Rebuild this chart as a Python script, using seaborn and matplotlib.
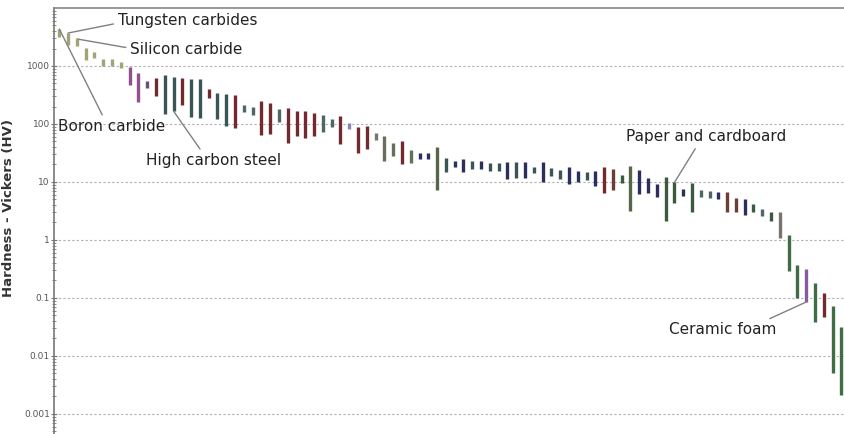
import pandas as pd
import numpy as np
import matplotlib
matplotlib.use('Agg')
import matplotlib.pyplot as plt
import seaborn as sns

# hardness ranges (HV) per material, sorted by hardness
hv_high = [4350, 3700, 2930, 2040, 1740, 1320, 1320, 1170, 960, 757,
           551, 621, 700, 645, 621, 597, 597, 401, 342, 329,
           316, 213, 196, 249, 230, 181, 189, 167, 167, 155,
           143, 122, 137, 104, 89, 92, 70, 62, 47, 51,
           36, 31.6, 31.6, 40, 26, 23, 25, 23, 23, 21.3,
           21.3, 22.1, 22.1, 22.1, 18.2, 22.1, 17.4, 16.1, 18.2, 15.5,
           14.9, 15.5, 18.2, 16.7, 13.2, 18.9, 16.1, 11.7, 9.2, 12.2,
           9.8, 7.6, 9.6, 7.3, 7.0, 6.7, 6.7, 5.3, 5.1, 4.2,
           3.4, 3.0, 3.0, 1.22, 0.37, 0.316, 0.18, 0.122, 0.073, 0.0316]
hv_low = [3160, 2300, 2210, 1270, 1370, 1000, 1000, 925, 470, 240,
          418, 304, 149, 167, 213, 132, 127, 281, 122, 92,
          85, 161, 143, 65, 67, 108, 47, 62, 57, 62,
          73, 89, 45, 82, 31.6, 37, 53, 23, 28, 20,
          21, 25, 25, 7.3, 14.9, 18.2, 14.9, 16.7, 16.7, 15.5,
          15.5, 11.3, 11.7, 11.7, 14.3, 10, 12.7, 11.3, 9.2, 10,
          10.8, 8.5, 6.5, 7.3, 9.6, 3.16, 6.2, 6.5, 5.5, 2.1,
          4.3, 5.7, 3.0, 5.5, 5.3, 5.1, 3.0, 3.0, 2.7, 3.0,
          2.6, 2.1, 1.08, 0.29, 0.1, 0.085, 0.0385, 0.047, 0.0051, 0.0021]
# material family code per bar
family = list('KKKKKKKKPP' 'MRSSRSSRSS' 'RLLRRLRRRR' 'LLRVRRGOOR' 'ONNESNNSNS'
              'SNSNSNSSNN' 'SNRBDENNND' 'DNDLLNBBND' 'LDGFFUFRFF')

# annotated materials: (label, bar index, end of bar)
notes = [('Tungsten carbides', 1, 'high'),
         ('Silicon carbide', 2, 'high'),
         ('Boron carbide', 0, 'high'),
         ('High carbon steel', 13, 'low'),
         ('Paper and cardboard', 70, 'high'),
         ('Ceramic foam', 85, 'low')]

yticks = [0.001, 0.01, 0.1, 1, 10, 100, 1000]
ytick_labels = ['0.001', '0.01', '0.1', '1', '10', '100', '1000']

palette = {'K': '#a3a373', 'P': '#94508c', 'M': '#6e506e', 'R': '#722a2e',
           'S': '#395555', 'L': '#4e6666', 'V': '#8a86b4', 'G': '#78756e',
           'O': '#66705a', 'N': '#2c2e5e', 'E': '#56664a', 'B': '#6e3e36',
           'D': '#3b5a40', 'F': '#3f6e45', 'U': '#8a5aa0'}

n = len(hv_high)
df = pd.DataFrame({'idx': list(range(n)) * 2,
                   'hv': hv_low + hv_high,
                   'family': family * 2})

sns.set_style('white')
plt.rcParams['font.family'] = ['DejaVu Sans']

fig = plt.figure(figsize=(8.44, 4.34), dpi=100)
ax = fig.add_axes([54 / 844, 0.0, 1 - 54 / 844, 1 - 8 / 434])

sns.lineplot(data=df, x='idx', y='hv', hue='family', units='idx', estimator=None,
             palette=palette, legend=False, linewidth=2.4, solid_capstyle='butt', ax=ax)

ax.set_yscale('log')
ax.set_ylim(4.5e-4, 1e4)
ax.set_xlim(-0.6, 89.3)
ax.set_yticks(yticks)
ax.set_yticklabels(ytick_labels)
ax.set_xticks([])
ax.set_xlabel('')
ax.set_ylabel('Hardness - Vickers (HV)', fontsize=9.5, fontweight='bold', color='#333333')
ax.yaxis.set_label_coords(-39 / 790, 0.53)
ax.tick_params(axis='y', which='major', labelsize=6.5, labelcolor='#555555', length=4, width=0.8,
               color='#777777', direction='inout', left=True, pad=1)
ax.tick_params(axis='y', which='minor', length=2.5, width=0.6, color='#777777', direction='inout', left=True)
ax.yaxis.grid(True, which='major', color='#b0b0b0', linestyle=(0, (2, 2)), linewidth=0.8)
ax.set_axisbelow(True)

for side in ['right', 'bottom']:
    ax.spines[side].set_visible(False)
ax.spines['left'].set_color('#777777')
ax.spines['top'].set_color('#888888')
ax.spines['left'].set_linewidth(1.2)
ax.spines['top'].set_linewidth(1.2)

# label placement (data coords) and where the leader line leaves the text
text_pos = {'Tungsten carbides': (6.7, 6200, 'left', (0, 0.3)),
            'Silicon carbide': (8.1, 1900, 'left', (0, 0.6)),
            'Boron carbide': (6.0, 89, 'center', (0.43, 1)),
            'High carbon steel': (17.6, 23, 'center', (0.42, 1)),
            'Paper and cardboard': (73.6, 60, 'center', (0.45, 0)),
            'Ceramic foam': (75.5, 0.028, 'center', (0.86, 1))}
for label, i, end in notes:
    y = hv_high[i] if end == 'high' else hv_low[i]
    tx, ty, ha, rel = text_pos[label]
    ax.annotate(label, xy=(i, y), xytext=(tx, ty), ha=ha, va='center',
                fontsize=11, color='#222222',
                arrowprops=dict(arrowstyle='-', color='#808080', lw=1, relpos=rel,
                                shrinkA=1, shrinkB=0))

plt.savefig('out.png', dpi=100)
